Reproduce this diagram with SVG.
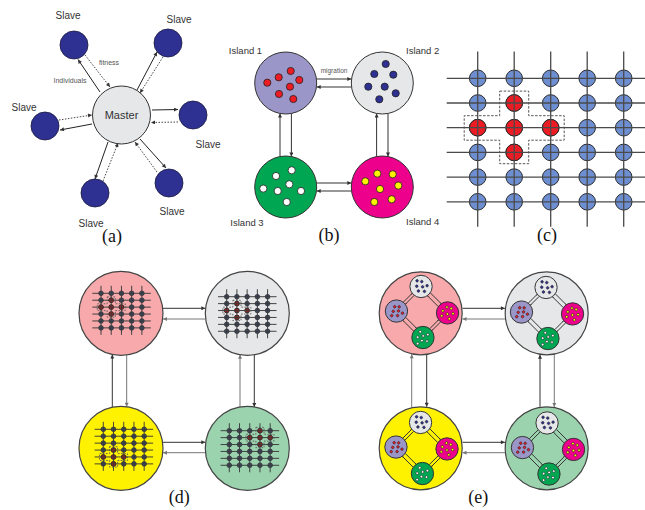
<svg xmlns="http://www.w3.org/2000/svg" width="645" height="510" viewBox="0 0 645 510">
<style>
.lbl{font-family:"Liberation Sans",Arial,sans-serif;fill:#333;text-anchor:middle}
.sm{font-size:7px;fill:#555}
.cap{font-family:"Liberation Serif","Times New Roman",serif;font-size:18px;fill:#111;text-anchor:middle}
.slave{fill:#2e3192;stroke:#1a1a40;stroke-width:0.8}
.master{fill:#e6e7e8;stroke:#333;stroke-width:1}
.sol{stroke:#222;stroke-width:1;fill:none;marker-end:url(#ah)}
.dot{stroke:#444;stroke-width:1;stroke-dasharray:1.5 1.5;fill:none;marker-end:url(#ah)}
.ic{stroke:#333;stroke-width:var(--bw,1)}
.dt{stroke:#222;stroke-width:var(--dw,0.8)}
.bc{stroke:#333;stroke-width:var(--bw,1);fill:none;marker-end:url(#ah)}
.gn{fill:var(--gf,#6d8fd1);stroke:#2b2b2b;stroke-width:var(--cw,1)}
.rn{fill:var(--rf,#ed1c24);stroke:#2b2b2b;stroke-width:var(--cw,1)}
.gl{stroke:var(--lc,#4a4a4a);stroke-width:var(--lw,1.3);fill:none}
.go{fill:none;stroke:#555;stroke-width:var(--ow,1);stroke-dasharray:var(--od,2.5 1.5)}
.big{stroke:#444;stroke-width:1.2}
.c1{stroke:#333;stroke-width:1;fill:none;marker-end:url(#ah)}
.c2{stroke:#777;stroke-width:1;fill:none;marker-end:url(#ah2)}
.mini{--cw:2.6;--lw:3.4;--lc:#3a3a3a;--gf:#3d4d6e;--rf:#b81c1c;--ow:3;--od:6 5}
.inner{--bw:2.6;--dw:1.6}
</style>
<defs>
<marker id="ah" viewBox="0 0 10 10" refX="10" refY="5" markerWidth="5" markerHeight="4" markerUnits="userSpaceOnUse" orient="auto"><path d="M0,0 L10,5 L0,10 z" fill="#333"/></marker>
<marker id="ah2" viewBox="0 0 10 10" refX="10" refY="5" markerWidth="5" markerHeight="4" markerUnits="userSpaceOnUse" orient="auto"><path d="M0,0 L10,5 L0,10 z" fill="#777"/></marker>
</defs>

<!-- Panel (a) -->
<g id="connectors-a">
<line class="sol" x1="100" y1="92" x2="78" y2="59.5"/>
<line class="dot" x1="85" y1="55" x2="110" y2="87"/>
<line class="sol" x1="137" y1="90" x2="157" y2="52"/>
<line class="dot" x1="163" y1="57" x2="140" y2="93"/>
<line class="sol" x1="152" y1="110" x2="178" y2="109.5"/>
<line class="dot" x1="178" y1="122" x2="151" y2="122.5"/>
<line class="sol" x1="92" y1="124" x2="60" y2="130"/>
<line class="dot" x1="59" y1="120" x2="92" y2="115"/>
<line class="sol" x1="108" y1="142" x2="95" y2="179"/>
<line class="dot" x1="103" y1="181" x2="118" y2="143"/>
<line class="sol" x1="140" y1="139" x2="166" y2="168"/>
<line class="dot" x1="157" y1="172" x2="135" y2="142"/>
</g>
<g id="master"><circle class="master" cx="121.5" cy="115" r="29"/><text class="lbl" x="121.5" y="119" font-size="11">Master</text></g>
<g id="slave1"><circle class="slave" cx="74" cy="45" r="14"/><text class="lbl" x="68" y="18.5" font-size="10">Slave</text></g>
<g id="slave2"><circle class="slave" cx="168" cy="43" r="14"/><text class="lbl" x="179" y="22.5" font-size="10">Slave</text></g>
<g id="slave3"><circle class="slave" cx="193" cy="115" r="14"/><text class="lbl" x="208" y="147.5" font-size="10">Slave</text></g>
<g id="slave4"><circle class="slave" cx="45" cy="126" r="14"/><text class="lbl" x="24" y="110.5" font-size="10">Slave</text></g>
<g id="slave5"><circle class="slave" cx="95" cy="193" r="14"/><text class="lbl" x="91" y="226.5" font-size="10">Slave</text></g>
<g id="slave6"><circle class="slave" cx="169" cy="183" r="14"/><text class="lbl" x="172" y="214.5" font-size="10">Slave</text></g>
<text class="lbl sm" x="109" y="64.5">fitness</text>
<text class="lbl sm" x="70" y="82.5">Individuals</text>
<text class="cap" x="112" y="242">(a)</text>

<!-- Panel (b) -->
<g id="panel-b" transform="translate(334,135)">
<g id="b-net">
<g id="b-conn">
<line class="bc" x1="-17.3" y1="-56" x2="17.3" y2="-56"/>
<line class="bc" x1="17.3" y1="-48" x2="-17.3" y2="-48"/>
<line class="bc" x1="-17.3" y1="48" x2="17.3" y2="48"/>
<line class="bc" x1="17.3" y1="56" x2="-17.3" y2="56"/>
<line class="bc" x1="-54" y1="21.5" x2="-54" y2="-21.5"/>
<line class="bc" x1="-42.6" y1="-21.5" x2="-42.6" y2="21.5"/>
<line class="bc" x1="42.6" y1="21.5" x2="42.6" y2="-21.5"/>
<line class="bc" x1="54" y1="-21.5" x2="54" y2="21.5"/>
</g>
<g id="island1"><circle class="ic" cx="-48.3" cy="-52" r="31" fill="#9b96c8"/>
<g fill="#ed1c24"><circle class="dt" cx="-43.3" cy="-64" r="3.6"/><circle class="dt" cx="-55.3" cy="-57.7" r="3.6"/><circle class="dt" cx="-34.7" cy="-55" r="3.6"/><circle class="dt" cx="-66.7" cy="-52.3" r="3.6"/><circle class="dt" cx="-44" cy="-48.3" r="3.6"/><circle class="dt" cx="-55" cy="-41" r="3.6"/><circle class="dt" cx="-40.7" cy="-36" r="3.6"/></g></g>
<g id="island2"><circle class="ic" cx="48.3" cy="-52" r="31" fill="#e6e7e8"/>
<g fill="#2e3192"><circle class="dt" cx="51.7" cy="-71" r="3.6"/><circle class="dt" cx="40.3" cy="-61" r="3.6"/><circle class="dt" cx="59.3" cy="-60.3" r="3.6"/><circle class="dt" cx="34.3" cy="-48.3" r="3.6"/><circle class="dt" cx="50.7" cy="-48.3" r="3.6"/><circle class="dt" cx="61.7" cy="-41.7" r="3.6"/><circle class="dt" cx="45.3" cy="-35.7" r="3.6"/></g></g>
<g id="island3"><circle class="ic" cx="-48.3" cy="52" r="31" fill="#00a651"/>
<g fill="#ffffff"><circle class="dt" cx="-42.3" cy="35.3" r="3.6"/><circle class="dt" cx="-58" cy="41" r="3.6"/><circle class="dt" cx="-44.7" cy="49.3" r="3.6"/><circle class="dt" cx="-70.7" cy="53.6" r="3.6"/><circle class="dt" cx="-56.3" cy="56" r="3.6"/><circle class="dt" cx="-33" cy="56" r="3.6"/><circle class="dt" cx="-47.3" cy="67" r="3.6"/></g></g>
<g id="island4"><circle class="ic" cx="48.3" cy="52" r="31" fill="#ec008c"/>
<g fill="#fff200"><circle class="dt" cx="43.3" cy="38.6" r="3.6"/><circle class="dt" cx="58.7" cy="39.3" r="3.6"/><circle class="dt" cx="31.3" cy="46.3" r="3.6"/><circle class="dt" cx="64.3" cy="50.6" r="3.6"/><circle class="dt" cx="46" cy="54" r="3.6"/><circle class="dt" cx="40.3" cy="67" r="3.6"/><circle class="dt" cx="57.7" cy="64.3" r="3.6"/></g></g>
</g>
<text class="lbl" x="0" y="-62" font-size="6.5" style="fill:#555">migration</text>
</g>
<text class="lbl" x="245.5" y="54" font-size="9.5">Island 1</text>
<text class="lbl" x="422.7" y="54" font-size="9.5">Island 2</text>
<text class="lbl" x="247" y="226" font-size="9.5">Island 3</text>
<text class="lbl" x="422.7" y="225" font-size="9.5">Island 4</text>
<text class="cap" x="329" y="241">(b)</text>

<!-- Panel (c) -->
<g id="panel-c" transform="translate(477.7,78.3)">
<g id="c-nodes">
<circle class="gn" cx="0" cy="0" r="8.3"/><circle class="gn" cx="36.5" cy="0" r="8.3"/><circle class="gn" cx="73" cy="0" r="8.3"/><circle class="gn" cx="109.5" cy="0" r="8.3"/><circle class="gn" cx="146" cy="0" r="8.3"/>
<circle class="gn" cx="0" cy="24.7" r="8.3"/><circle class="gn" cx="36.5" cy="24.7" r="8.3"/><circle class="gn" cx="73" cy="24.7" r="8.3"/><circle class="gn" cx="109.5" cy="24.7" r="8.3"/><circle class="gn" cx="146" cy="24.7" r="8.3"/>
<circle class="gn" cx="0" cy="49.4" r="8.3"/><circle class="gn" cx="36.5" cy="49.4" r="8.3"/><circle class="gn" cx="73" cy="49.4" r="8.3"/><circle class="gn" cx="109.5" cy="49.4" r="8.3"/><circle class="gn" cx="146" cy="49.4" r="8.3"/>
<circle class="gn" cx="0" cy="74.1" r="8.3"/><circle class="gn" cx="36.5" cy="74.1" r="8.3"/><circle class="gn" cx="73" cy="74.1" r="8.3"/><circle class="gn" cx="109.5" cy="74.1" r="8.3"/><circle class="gn" cx="146" cy="74.1" r="8.3"/>
<circle class="gn" cx="0" cy="98.8" r="8.3"/><circle class="gn" cx="36.5" cy="98.8" r="8.3"/><circle class="gn" cx="73" cy="98.8" r="8.3"/><circle class="gn" cx="109.5" cy="98.8" r="8.3"/><circle class="gn" cx="146" cy="98.8" r="8.3"/>
<circle class="gn" cx="0" cy="123.5" r="8.3"/><circle class="gn" cx="36.5" cy="123.5" r="8.3"/><circle class="gn" cx="73" cy="123.5" r="8.3"/><circle class="gn" cx="109.5" cy="123.5" r="8.3"/><circle class="gn" cx="146" cy="123.5" r="8.3"/>
</g>
<g id="c-red">
<circle class="rn" cx="36.5" cy="24.7" r="8.3"/><circle class="rn" cx="0" cy="49.4" r="8.3"/><circle class="rn" cx="36.5" cy="49.4" r="8.3"/><circle class="rn" cx="73" cy="49.4" r="8.3"/><circle class="rn" cx="36.5" cy="74.1" r="8.3"/>
</g>
<g id="c-lines">
<line class="gl" x1="-31" y1="0" x2="178" y2="0"/><line class="gl" x1="-31" y1="24.7" x2="178" y2="24.7"/><line class="gl" x1="-31" y1="49.4" x2="178" y2="49.4"/><line class="gl" x1="-31" y1="74.1" x2="178" y2="74.1"/><line class="gl" x1="-31" y1="98.8" x2="178" y2="98.8"/><line class="gl" x1="-31" y1="123.5" x2="178" y2="123.5"/>
<line class="gl" x1="0" y1="-26.7" x2="0" y2="148.5"/><line class="gl" x1="36.5" y1="-26.7" x2="36.5" y2="148.5"/><line class="gl" x1="73" y1="-26.7" x2="73" y2="148.5"/><line class="gl" x1="109.5" y1="-26.7" x2="109.5" y2="148.5"/><line class="gl" x1="146" y1="-26.7" x2="146" y2="148.5"/>
</g>
<polygon id="c-outline" class="go" points="22,12.8 51,12.8 51,37.4 86.5,37.4 86.5,61.9 51,61.9 51,85.4 22,85.4 22,61.9 -13.5,61.9 -13.5,37.4 22,37.4"/>
</g>
<text class="cap" x="547" y="241">(c)</text>

<!-- Connectors (d) and (e) -->
<g id="connectors-de">
<line class="c1" x1="163" y1="308.3" x2="205.3" y2="308.3"/>
<line class="c2" x1="205.3" y1="319" x2="163" y2="319"/>
<line class="c1" x1="112.3" y1="407.2" x2="112.3" y2="354.6"/>
<line class="c2" x1="126.7" y1="354.9" x2="126.7" y2="406.7"/>
<line class="c2" x1="240" y1="406.9" x2="240" y2="354.7"/>
<line class="c1" x1="254.3" y1="354.7" x2="254.3" y2="406.9"/>
<line class="c1" x1="163" y1="442.3" x2="205.3" y2="442.3"/>
<line class="c2" x1="205.3" y1="452.7" x2="163" y2="452.7"/>
<line class="c1" x1="462.5" y1="308.3" x2="504.9" y2="308.3"/>
<line class="c2" x1="504.9" y1="319" x2="462.5" y2="319"/>
<line class="c2" x1="411.7" y1="407.3" x2="411.7" y2="354.3"/>
<line class="c1" x1="426.7" y1="354.9" x2="426.7" y2="406.7"/>
<line class="c1" x1="540" y1="406.8" x2="540" y2="354.8"/>
<line class="c2" x1="554.3" y1="354.6" x2="554.3" y2="407"/>
<line class="c1" x1="462.5" y1="442.3" x2="504.9" y2="442.3"/>
<line class="c2" x1="504.9" y1="452.7" x2="462.5" y2="452.7"/>
</g>

<!-- Panel (d) -->
<g id="d-pink"><circle class="big" cx="121" cy="313.3" r="42" fill="#f7a9ab"/>
<g class="mini" transform="translate(101,293.3) scale(0.28)"><use href="#c-nodes"/><use href="#c-red"/><use href="#c-lines"/><use href="#c-outline"/></g></g>
<g id="d-gray"><circle class="big" cx="247.3" cy="313.3" r="42" fill="#e6e7e8"/>
<g class="mini" transform="translate(226.7,296.7) scale(0.28)"><use href="#c-nodes"/><use href="#c-red"/><use href="#c-lines"/><use href="#c-outline"/></g></g>
<g id="d-yellow"><circle class="big" cx="121" cy="448.3" r="42" fill="#fff200"/>
<g class="mini" transform="translate(103.3,429.3) scale(0.28)"><use href="#c-nodes"/><use href="#c-red" transform="translate(0,49.4)"/><use href="#c-lines"/><use href="#c-outline" transform="translate(0,49.4)"/></g></g>
<g id="d-green"><circle class="big" cx="247.3" cy="448.3" r="42" fill="#9bd3ae"/>
<g class="mini" transform="translate(229.3,430.7) scale(0.28)"><use href="#c-nodes"/><use href="#c-red" transform="translate(73,-24.7)"/><use href="#c-lines"/><use href="#c-outline" transform="translate(73,-24.7)"/></g></g>
<text class="cap" x="179.3" y="503">(d)</text>

<!-- Panel (e) -->
<g id="e-pink"><circle class="big" cx="420.7" cy="313.3" r="41.5" fill="#f7a9ab"/>
<g class="inner" transform="translate(422,312) rotate(-45) scale(0.36)"><use href="#b-net"/></g></g>
<g id="e-gray"><circle class="big" cx="546.7" cy="313.3" r="41.5" fill="#e6e7e8"/>
<g class="inner" transform="translate(547,313) rotate(-45) scale(0.36)"><use href="#b-net"/></g></g>
<g id="e-yellow"><circle class="big" cx="420.7" cy="448.3" r="41.5" fill="#fff200"/>
<g class="inner" transform="translate(421.5,448) rotate(-45) scale(0.36)"><use href="#b-net"/></g></g>
<g id="e-green"><circle class="big" cx="546.7" cy="448.3" r="41.5" fill="#9bd3ae"/>
<g class="inner" transform="translate(548,448.5) rotate(-45) scale(0.36)"><use href="#b-net"/></g></g>
<text class="cap" x="478.3" y="503">(e)</text>
</svg>
